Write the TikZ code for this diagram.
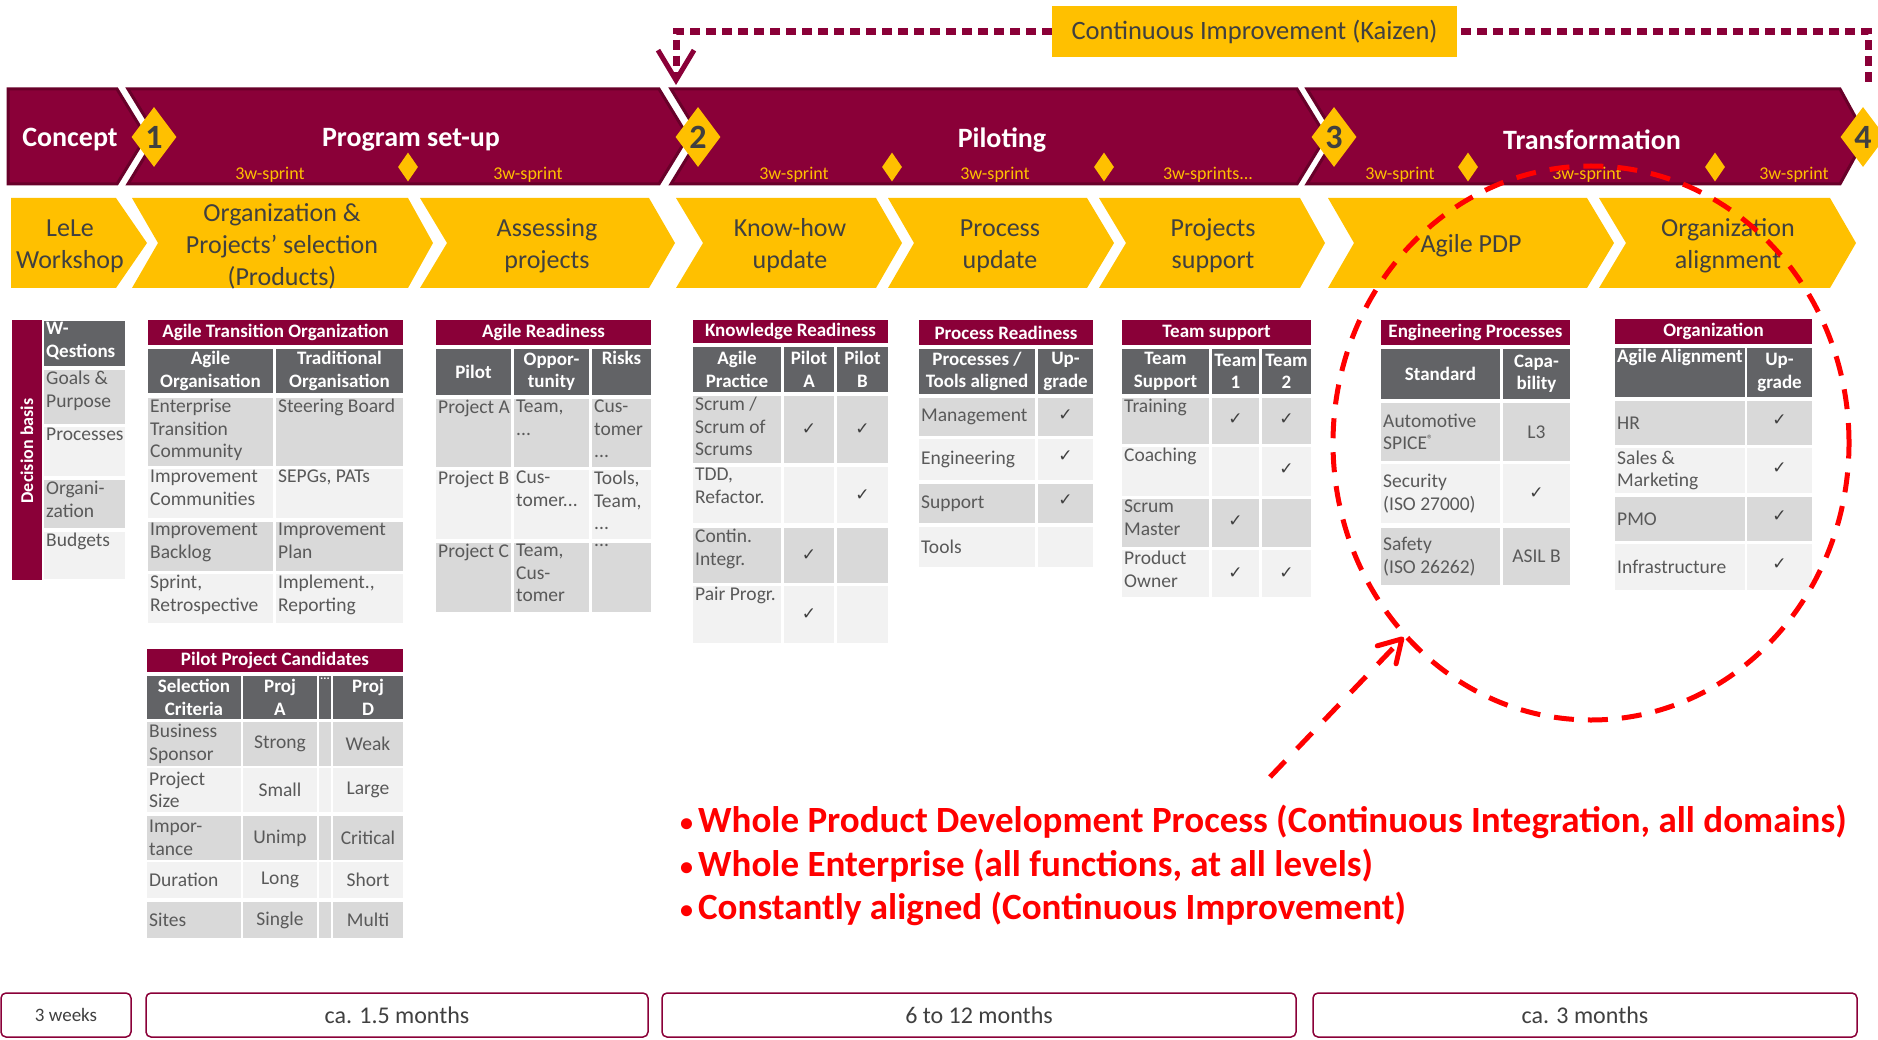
\documentclass[tikz,border=0pt]{standalone}
\usepackage{fontspec}
\setmainfont{Carlito}
\newfontfamily\dejavu{DejaVu Sans}
\usetikzlibrary{shapes.geometric,arrows.meta}

\definecolor{wine}{HTML}{8A0038}
\definecolor{winedk}{HTML}{680029}
\definecolor{gold}{HTML}{FFC000}
\definecolor{hdr}{HTML}{626366}
\definecolor{dnine}{HTML}{D9D9D9}
\definecolor{ftwo}{HTML}{F2F2F2}
\definecolor{bodytxt}{HTML}{595959}
\definecolor{darktxt}{HTML}{404040}
\definecolor{hotred}{HTML}{FF0000}

\newcounter{cellno}
\newcommand\fs[2]{\fontsize{#1}{#2}\selectfont}
\newcommand\ck{{\dejavu\fs{17}{18}✓}}
\newcommand\rbul{{\fs{26}{26}\raisebox{1pt}{•}}\hspace{5pt}}

% background of a cell
\newcommand\bg[5]{\fill[#5] (#1,#2) rectangle (#3,#4);}
% top-left text
\newcommand\cTL[7]{\stepcounter{cellno}\fill[#5] (#1,#2) rectangle (#3,#4);
  \node[#6,anchor=north west] (t\arabic{cellno}) at (#1+2,#2+1) {#7};}
% centred text
\newcommand\cCC[7]{\stepcounter{cellno}\fill[#5] (#1,#2) rectangle (#3,#4);
  \node[#6,anchor=center] (t\arabic{cellno}) at ({(#1+#3)/2},{(#2+#4)/2}) {#7};}
% left text, vertically centred
\newcommand\cML[7]{\stepcounter{cellno}\fill[#5] (#1,#2) rectangle (#3,#4);
  \node[#6,anchor=west] (t\arabic{cellno}) at (#1+2,{(#2+#4)/2}) {#7};}
% top-centred text
\newcommand\cTC[7]{\stepcounter{cellno}\fill[#5] (#1,#2) rectangle (#3,#4);
  \node[#6,anchor=north] (t\arabic{cellno}) at ({(#1+#3)/2},#2+2) {#7};}

\tikzset{
  body/.style={inner sep=0pt, align=left, text=bodytxt, font=\fs{19.5}{22.5}},
  bodyc/.style={inner sep=0pt, align=center, text=bodytxt, font=\fs{19.5}{22.5}},
  head/.style={inner sep=0pt, align=center, text=white, font=\bfseries\fs{19}{22.5}},
  headl/.style={inner sep=0pt, align=left, text=white, font=\bfseries\fs{19}{22.5}},
  headsm/.style={inner sep=0pt, text=white, font=\bfseries\fs{12}{14}},
  ttl/.style={inner sep=0pt, text=white, font=\bfseries\fs{19}{20}},
  chk/.style={inner sep=0pt, text=darktxt},
  banner/.style={fill=wine, draw=winedk, line width=3pt, line join=miter},
  ychev/.style={fill=gold},
  phase/.style={text=white, font=\bfseries\fs{28}{30}, inner sep=0pt},
  mile/.style={shape=diamond, fill=gold, inner sep=0pt, minimum width=45pt, minimum height=60pt,
     text=darktxt, font=\bfseries\fs{34}{36}},
  smile/.style={shape=diamond, fill=gold, inner sep=0pt, minimum width=20pt, minimum height=29pt},
  sprint/.style={text=gold, font=\fs{18}{20}, inner sep=0pt},
  ytext/.style={text=darktxt, font=\fs{26}{32}, align=center, inner sep=0pt},
  kz/.style={draw=wine, line width=7pt, dash pattern=on 10pt off 6pt},
  redtxt/.style={text=hotred, font=\bfseries\fs{37}{40}, anchor=west, inner sep=0pt},
  dur/.style={draw=wine, line width=1.5pt, fill=white, rounded corners=5pt, inner sep=0pt,
     minimum height=44pt, text=darktxt},
}

\begin{document}
\begin{tikzpicture}[x=1pt,y=-1pt]
\useasboundingbox (0,0) rectangle (1878,1040);

% ---------- Kaizen loop ----------
\node[fill=gold, minimum width=405pt, minimum height=51pt, inner sep=0pt, text=darktxt,
      font=\fs{26.5}{30}] (kaizen) at (1254.5,31.5) {Continuous Improvement (Kaizen)};
\coordinate (kzR) at (1868,82);
\coordinate (kzL) at (676,85);
\draw[kz] (kzR) |- (kaizen.east);
\draw[kz, -{Straight Barb[length=30pt,width=36pt,line width=5pt]}] (kaizen.west) -| (kzL);

% ---------- phase banner ----------
\path[banner] (8,89) -- (117,89) -- (146,136.5) -- (117,184) -- (8,184) -- cycle;
\path[banner] (128,89) -- (659,89) -- (688,136.5) -- (659,184) -- (128,184) -- (157,136.5) -- cycle;
\path[banner] (671,89) -- (1297,89) -- (1326,136.5) -- (1297,184) -- (671,184) -- (700,136.5) -- cycle;
\path[banner] (1307,89) -- (1840,89) -- (1866,136.5) -- (1840,184) -- (1307,184) -- (1336,136.5) -- cycle;

\node[phase] (pConcept) at (70,140) {Concept};
\node[phase] (pSetup) at (411,140) {Program set-up};
\node[phase] (pPilot) at (1002,140) {Piloting};
\node[phase] (pTrans) at (1592,140) {Transformation};

\node[mile] (m1) at (154,137) {1};
\node[mile] (m2) at (698,137) {2};
\node[mile] (m3) at (1334,137) {3};
\node[mile] (m4) at (1863,137) {4};

\node[smile] (s1) at (408,167) {};
\node[smile] (s2) at (892,167) {};
\node[smile] (s3) at (1104,167) {};
\node[smile] (s4) at (1468,167) {};
\node[smile] (s5) at (1715,167) {};

\node[sprint] (w1) at (270,175) {3w-sprint};
\node[sprint] (w2) at (528,175) {3w-sprint};
\node[sprint] (w3) at (794,175) {3w-sprint};
\node[sprint] (w4) at (995,175) {3w-sprint};
\node[sprint] (w5) at (1208,175) {3w-sprints...};
\node[sprint] (w6) at (1400,175) {3w-sprint};
\node[sprint] (w7) at (1587,175) {3w-sprint};
\node[sprint] (w8) at (1794,175) {3w-sprint};

% ---------- yellow activity chevrons ----------
\path[ychev] (11,198) -- (116,198) -- (147,243) -- (116,288) -- (11,288) -- cycle;
\path[ychev] (132,198) -- (408,198) -- (433,243) -- (408,288) -- (132,288) -- (158,243) -- cycle;
\path[ychev] (420,198) -- (649,198) -- (675,243) -- (649,288) -- (420,288) -- (447,243) -- cycle;
\path[ychev] (676,198) -- (876,198) -- (902,243) -- (876,288) -- (676,288) -- (703,243) -- cycle;
\path[ychev] (888,198) -- (1087,198) -- (1114,243) -- (1087,288) -- (888,288) -- (914,243) -- cycle;
\path[ychev] (1099,198) -- (1300,198) -- (1325,243) -- (1300,288) -- (1099,288) -- (1126,243) -- cycle;
\path[ychev] (1328,198) -- (1587,198) -- (1614,243) -- (1587,288) -- (1328,288) -- (1354,243) -- cycle;
\path[ychev] (1599,198) -- (1830,198) -- (1856,243) -- (1830,288) -- (1599,288) -- (1626,243) -- cycle;

\node[ytext] (a1) at (70,246) {LeLe\\Workshop};
\node[ytext] (a2) at (282,246) {Organization \&\\Projects’ selection\\(Products)};
\node[ytext] (a3) at (547,246) {Assessing\\projects};
\node[ytext] (a4) at (790,246) {Know-how\\update};
\node[ytext] (a5) at (1000,246) {Process\\update};
\node[ytext] (a6) at (1213,246) {Projects\\support};
\node[ytext] (a7) at (1471,246) {Agile PDP};
\node[ytext] (a8) at (1728,246) {Organization\\alignment};

% ---------- Decision basis ----------
\fill[wine] (12,320) rectangle (42,580);
\node[rotate=90, text=white, font=\bfseries\fs{18}{20}, inner sep=0pt] (decb) at (27,451) {Decision basis};
\cTL{44}{321}{125}{366}{hdr}{headl}{W-\\Qestions}
\cTL{44}{370}{125}{424}{dnine}{body}{Goals \&\\Purpose}
\cTL{44}{427}{125}{476}{ftwo}{body}{Processes}
\cTL{44}{480}{125}{528}{dnine}{body}{Organi-\\zation}
\cTL{44}{532}{125}{579}{ftwo}{body}{Budgets}

% ---------- Agile Transition Organization ----------
\cCC{148}{320}{403}{345}{wine}{ttl}{Agile Transition Organization}
\cCC{148}{349}{273}{393}{hdr}{head}{Agile\\Organisation}
\cCC{276}{349}{403}{393}{hdr}{head}{Traditional\\Organisation}
\cTL{148}{398}{273}{466}{dnine}{body}{Enterprise\\Transition\\Community}
\cTL{276}{398}{403}{466}{dnine}{body}{Steering Board}
\cTL{148}{469}{273}{518}{ftwo}{body}{Improvement\\Communities}
\cTL{276}{469}{403}{518}{ftwo}{body}{SEPGs, PATs}
\cTL{148}{522}{273}{571}{dnine}{body}{Improvement\\Backlog}
\cTL{276}{522}{403}{571}{dnine}{body}{Improvement\\Plan}
\cTL{148}{574}{273}{623}{ftwo}{body}{Sprint,\\Retrospective}
\cTL{276}{574}{403}{623}{ftwo}{body}{Implement.,\\Reporting}

% ---------- Pilot Project Candidates ----------
\cCC{147}{649}{403}{672}{wine}{ttl}{Pilot Project Candidates}
\cCC{147}{676}{241}{719}{hdr}{head}{Selection\\Criteria}
\cCC{243}{676}{317}{719}{hdr}{head}{Proj\\A}
\cTC{319}{676}{331}{719}{hdr}{headsm}{...}
\cCC{333}{676}{403}{719}{hdr}{head}{Proj\\D}
\cML{147}{722}{241}{766}{dnine}{body}{Business\\Sponsor}
\cCC{243}{722}{317}{766}{dnine}{bodyc}{Strong}
\bg{319}{722}{331}{766}{dnine}
\cCC{333}{722}{403}{766}{dnine}{bodyc}{Weak}
\cML{147}{768}{241}{812}{ftwo}{body}{Project\\Size}
\cCC{243}{768}{317}{812}{ftwo}{bodyc}{Small}
\bg{319}{768}{331}{812}{ftwo}
\cCC{333}{768}{403}{812}{ftwo}{bodyc}{Large}
\cML{147}{816}{241}{860}{dnine}{body}{Impor-\\tance}
\cCC{243}{816}{317}{860}{dnine}{bodyc}{Unimp}
\bg{319}{816}{331}{860}{dnine}
\cCC{333}{816}{403}{860}{dnine}{bodyc}{Critical}
\cML{147}{862}{241}{898}{ftwo}{body}{Duration}
\cCC{243}{862}{317}{898}{ftwo}{bodyc}{Long}
\bg{319}{862}{331}{898}{ftwo}
\cCC{333}{862}{403}{898}{ftwo}{bodyc}{Short}
\cML{147}{902}{241}{938}{dnine}{body}{Sites}
\cCC{243}{902}{317}{938}{dnine}{bodyc}{Single}
\bg{319}{902}{331}{938}{dnine}
\cCC{333}{902}{403}{938}{dnine}{bodyc}{Multi}

% ---------- Agile Readiness ----------
\cCC{436}{320}{651}{345}{wine}{ttl}{Agile Readiness}
\cCC{436}{349}{511}{395}{hdr}{head}{Pilot}
\cCC{514}{349}{589}{395}{hdr}{head}{Oppor-\\tunity}
\cTC{592}{349}{651}{395}{hdr}{head}{Risks}
\cTL{436}{399}{511}{467}{dnine}{body}{Project A}
\cTL{514}{399}{589}{467}{dnine}{body}{Team,\\...}
\cTL{592}{399}{651}{467}{dnine}{body}{Cus-\\tomer\\...}
\cTL{436}{470}{511}{539}{ftwo}{body}{Project B}
\cTL{514}{470}{589}{539}{ftwo}{body}{Cus-\\tomer...}
\cTL{592}{470}{651}{539}{ftwo}{body}{Tools,\\Team,\\...}
\cTL{436}{543}{511}{612}{dnine}{body}{Project C}
\cTL{514}{543}{589}{612}{dnine}{body}{Team,\\Cus-\\tomer}
\cTL{592}{543}{651}{612}{dnine}{body}{...}

% ---------- Knowledge Readiness ----------
\cCC{693}{320}{888}{343}{wine}{ttl}{Knowledge Readiness}
\cCC{693}{347}{781}{392}{hdr}{head}{Agile\\Practice}
\cCC{784}{347}{834}{392}{hdr}{head}{Pilot\\A}
\cCC{837}{347}{888}{392}{hdr}{head}{Pilot\\B}
\cTL{693}{396}{781}{463}{dnine}{body}{Scrum /\\Scrum of\\Scrums}
\cCC{784}{396}{834}{463}{dnine}{chk}{\ck}
\cCC{837}{396}{888}{463}{dnine}{chk}{\ck}
\cTL{693}{467}{781}{523}{ftwo}{body}{TDD,\\Refactor.}
\bg{784}{467}{834}{523}{ftwo}
\cCC{837}{467}{888}{523}{ftwo}{chk}{\ck}
\cTL{693}{528}{781}{583}{dnine}{body}{Contin.\\Integr.}
\cCC{784}{528}{834}{583}{dnine}{chk}{\ck}
\bg{837}{528}{888}{583}{dnine}
\cTL{693}{586}{781}{643}{ftwo}{body}{Pair Progr.}
\cCC{784}{586}{834}{643}{ftwo}{chk}{\ck}
\bg{837}{586}{888}{643}{ftwo}

% ---------- Process Readiness ----------
\cCC{919}{320}{1093}{345}{wine}{ttl}{Process Readiness}
\cCC{919}{349}{1035}{394}{hdr}{head}{Processes /\\Tools aligned}
\cCC{1038}{349}{1093}{394}{hdr}{head}{Up-\\grade}
\cML{919}{398}{1035}{436}{dnine}{body}{Management}
\cCC{1038}{398}{1093}{432}{dnine}{chk}{\ck}
\bg{1038}{430}{1093}{436}{dnine}
\cML{919}{439}{1035}{480}{ftwo}{body}{Engineering}
\cCC{1038}{439}{1093}{474}{ftwo}{chk}{\ck}
\bg{1038}{472}{1093}{480}{ftwo}
\cML{919}{484}{1035}{523}{dnine}{body}{Support}
\cCC{1038}{484}{1093}{517}{dnine}{chk}{\ck}
\bg{1038}{515}{1093}{523}{dnine}
\cML{919}{527}{1035}{567}{ftwo}{body}{Tools}
\bg{1038}{527}{1093}{567}{ftwo}

% ---------- Team support ----------
\cCC{1122}{320}{1311}{345}{wine}{ttl}{Team support}
\cCC{1122}{349}{1209}{394}{hdr}{head}{Team\\Support}
\cCC{1212}{349}{1259}{394}{hdr}{head}{Team\\1}
\cCC{1262}{349}{1311}{394}{hdr}{head}{Team\\2}
\cTL{1122}{398}{1209}{444}{dnine}{body}{Training}
\cCC{1212}{398}{1259}{440}{dnine}{chk}{\ck}
\cCC{1262}{398}{1311}{440}{dnine}{chk}{\ck}
\bg{1212}{438}{1259}{444}{dnine}\bg{1262}{438}{1311}{444}{dnine}
\cTL{1122}{447}{1209}{496}{ftwo}{body}{Coaching}
\bg{1212}{447}{1259}{496}{ftwo}
\cCC{1262}{447}{1311}{492}{ftwo}{chk}{\ck}
\bg{1262}{490}{1311}{496}{ftwo}
\cTL{1122}{499}{1209}{547}{dnine}{body}{Scrum\\Master}
\cCC{1212}{499}{1259}{543}{dnine}{chk}{\ck}
\bg{1212}{541}{1259}{547}{dnine}
\bg{1262}{499}{1311}{547}{dnine}
\cTL{1122}{550}{1209}{597}{ftwo}{body}{Product\\Owner}
\cCC{1212}{550}{1259}{597}{ftwo}{chk}{\ck}
\cCC{1262}{550}{1311}{597}{ftwo}{chk}{\ck}

% ---------- Engineering Processes ----------
\cCC{1381}{320}{1570}{345}{wine}{ttl}{Engineering Processes}
\cCC{1381}{349}{1500}{399}{hdr}{head}{Standard}
\cCC{1503}{349}{1570}{399}{hdr}{head}{Capa-\\bility}
\cML{1381}{403}{1500}{461}{dnine}{body}{Automotive\\SPICE\raisebox{6pt}{\fs{12}{12}®}}
\cCC{1503}{403}{1570}{461}{dnine}{bodyc}{L3}
\cML{1381}{464}{1500}{523}{ftwo}{body}{Security\\(ISO 27000)}
\cCC{1503}{464}{1570}{523}{ftwo}{chk}{\ck}
\cML{1381}{528}{1500}{585}{dnine}{body}{Safety\\(ISO 26262)}
\cCC{1503}{528}{1570}{585}{dnine}{bodyc}{ASIL B}

% ---------- Organization ----------
\cCC{1615}{319}{1812}{344}{wine}{ttl}{Organization}
\cTL{1615}{348}{1745}{397}{hdr}{headl}{Agile Alignment}
\cCC{1747}{348}{1812}{397}{hdr}{head}{Up-\\grade}
\cML{1615}{401}{1745}{445}{dnine}{body}{HR}
\cCC{1747}{401}{1812}{440}{dnine}{chk}{\ck}
\bg{1747}{438}{1812}{445}{dnine}
\cML{1615}{448}{1745}{493}{ftwo}{body}{Sales \&\\Marketing}
\cCC{1747}{448}{1812}{488}{ftwo}{chk}{\ck}
\bg{1747}{486}{1812}{493}{ftwo}
\cML{1615}{497}{1745}{541}{dnine}{body}{PMO}
\cCC{1747}{497}{1812}{536}{dnine}{chk}{\ck}
\bg{1747}{534}{1812}{541}{dnine}
\cML{1615}{544}{1745}{590}{ftwo}{body}{Infrastructure}
\cCC{1747}{544}{1812}{585}{ftwo}{chk}{\ck}
\bg{1747}{583}{1812}{590}{ftwo}

% ---------- red focus ellipse and arrow ----------
\node[shape=ellipse, draw=hotred, line width=5pt, dash pattern=on 20pt off 14pt,
      minimum width=516pt, minimum height=554pt, inner sep=0pt] (focus) at (1591,443) {};
\coordinate (arrstart) at (1270,777);
\draw[hotred, line width=5pt, dash pattern=on 22pt off 17pt,
      -{Straight Barb[length=22pt,width=26pt,line width=5pt,round]}] (arrstart) -- (focus.226);

% ---------- red statements ----------
\node[redtxt] (r1) at (680,822) {\rbul Whole Product Development Process (Continuous Integration, all domains)};
\node[redtxt] (r2) at (680,866) {\rbul Whole Enterprise (all functions, at all levels)};
\node[redtxt] (r3) at (680,909) {\rbul Constantly aligned (Continuous Improvement)};

% ---------- durations ----------
\node[dur, minimum width=130pt, font=\fs{19}{22}] (d1) at (66,1015) {3 weeks};
\node[dur, minimum width=502pt, font=\fs{24}{28}] (d2) at (397,1015) {ca. 1.5 months};
\node[dur, minimum width=634pt, font=\fs{24}{28}] (d3) at (979,1015) {6 to 12 months};
\node[dur, minimum width=544pt, font=\fs{24}{28}] (d4) at (1585,1015) {ca. 3 months};
\end{tikzpicture}
\end{document}
